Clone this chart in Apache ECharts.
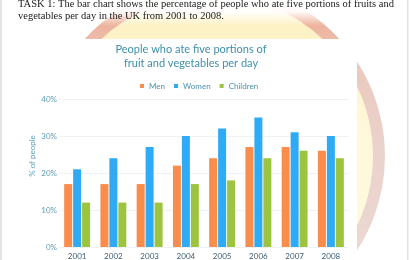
<!DOCTYPE html>
<html><head><meta charset="utf-8">
<script src="https://cdn.jsdelivr.net/npm/echarts@6/dist/echarts.min.js"></script>
<style>html,body{margin:0;padding:0;background:#fff}#c{width:410px;height:260px}</style>
</head><body><div id="c"></div>
<script>
const years = ['2001','2002','2003','2004','2005','2006','2007','2008'];
const men = [17,17,17,22,24,27,27,26];
const women = [21,24,27,30,32,35,31,30];
const children = [12,12,12,17,18,24,26,24];
const seriesNames = ['Men','Women','Children'];
const headerLines = ['TASK 1: The bar chart shows the percentage of people who ate five portions of fruits and','vegetables per day in the UK from 2001 to 2008.'];
const titleLines = ['People who ate five portions of','fruit and vegetables per day'];
const yName = '% of people';

const chart = echarts.init(document.getElementById('c'));
const LG = echarts.graphic.LinearGradient;
const graphic = [
  {type:'circle', z:-10, shape:{cx:212, cy:156, r:167},
   style:{fill:new LG(0,0,0,1,[{offset:0,color:'#fcefbc'},{offset:0.4,color:'#fff8d8'},{offset:1,color:'#fffbe4'}]),
          stroke:new LG(0,0,0,1,[{offset:0,color:'#ef9874'},{offset:0.22,color:'#ebc8bd'},{offset:0.5,color:'#ebd3cd'},{offset:1,color:'#ecdad5'}]),
          lineWidth:12}},
  {type:'rect', z:-8, shape:{x:0, y:0, width:410, height:26},
   style:{fill:new LG(0,0,0,1,[{offset:0,color:'rgba(255,255,255,1)'},{offset:0.45,color:'rgba(255,255,255,0.95)'},{offset:1,color:'rgba(255,255,255,0)'}])}},
  {type:'rect', z:-5, shape:{x:3, y:39, width:354, height:221}, style:{fill:'#ffffff'}},
  {type:'rect', z:-4, shape:{x:0, y:0, width:2, height:260}, style:{fill:'#e2e2e2'}},
  {type:'rect', z:-4, shape:{x:407, y:0, width:1.5, height:260}, style:{fill:'#e2e2e2'}},
  {type:'text', z:5, x:18, y:4.2, style:{text:headerLines[0], font:'10.5px "Liberation Serif"', fill:'#1a1a1a', verticalAlign:'middle', align:'left'}},
  {type:'text', z:5, x:18, y:16.3, style:{text:headerLines[1], font:'10.5px "Liberation Serif"', fill:'#1a1a1a', verticalAlign:'middle', align:'left'}},
  {type:'text', z:5, x:191, y:49.5, style:{text:titleLines[0], font:'11px Lato', fill:'#3f8fab', verticalAlign:'middle', align:'center'}},
  {type:'text', z:5, x:191, y:63.5, style:{text:titleLines[1], font:'11px Lato', fill:'#3f8fab', verticalAlign:'middle', align:'center'}},
  {type:'text', z:5, x:32, y:156, rotation:Math.PI/2, style:{text:yName, font:'8px Lato', fill:'#5ea3b9', verticalAlign:'middle', align:'center'}}
];

chart.setOption({
  animation:false,
  graphic: graphic,
  legend:{left:140, top:82, padding:0, itemWidth:4, itemHeight:4, itemGap:9, icon:'rect',
    textStyle:{fontFamily:'Lato', fontSize:8, color:'#4d93b0'}, data:seriesNames},
  grid:{left:59, top:99, width:290, height:151, containLabel:false},
  xAxis:{type:'category', data:years,
    axisLine:{show:false}, axisTick:{show:false},
    axisLabel:{fontFamily:'Lato', fontSize:8, color:'#3e5e74', margin:5}},
  yAxis:{type:'value', min:0, max:40, interval:10,
    axisLine:{show:false}, axisTick:{show:false},
    splitLine:{lineStyle:{color:'#eef2f4', width:1}},
    axisLabel:{formatter:'{value}%', fontFamily:'Lato', fontSize:8, color:'#5e9fb5', margin:2}},
  series:[
    {name:seriesNames[0], type:'bar', data:men, barWidth:8, barGap:'12%', itemStyle:{color:'#fa8c4c'}},
    {name:seriesNames[1], type:'bar', data:women, barWidth:8, barGap:'12%', itemStyle:{color:'#2fabf6'}},
    {name:seriesNames[2], type:'bar', data:children, barWidth:8, barGap:'12%', itemStyle:{color:'#9cc43e'}}
  ]
});
</script></body></html>
